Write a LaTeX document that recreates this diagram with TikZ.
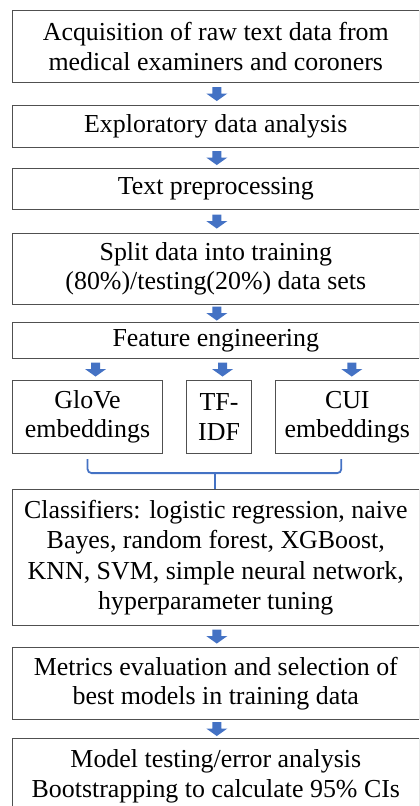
\documentclass[tikz,border=0pt]{standalone}
\usepackage{fontspec}
\setmainfont{Liberation Serif}
\usetikzlibrary{calc}
\definecolor{arrowblue}{HTML}{4472C4}
\definecolor{boxline}{HTML}{505050}
\tikzset{
  stepbox/.style={draw=boxline, line width=1.1bp, rectangle, inner sep=0pt, align=center,
    font=\fontsize{26}{29.5}\selectfont, anchor=north west},
  blockarrow/.pic={\fill[arrowblue] (-4.5bp,7bp) -- (4.5bp,7bp) -- (4.5bp,0.5bp) -- (10.5bp,0.5bp) -- (0bp,-7bp) -- (-10.5bp,0.5bp) -- (-4.5bp,0.5bp) -- cycle;},
  bracepath/.style={draw=arrowblue, line width=1.8bp, rounded corners=4bp}
}
\begin{document}
\begin{tikzpicture}[x=1bp, y=-1bp]
\useasboundingbox (0,0) rectangle (419,806);
\clip (0,0) rectangle (419,806);
\node[stepbox, minimum width=406.5bp, minimum height=72bp] (b1) at (12,10)
  {Acquisition of raw text data from\\medical examiners and coroners};
\node[stepbox, minimum width=406.5bp, minimum height=42bp] (b2) at (12,105)
  {Exploratory data analysis};
\node[stepbox, minimum width=406.5bp, minimum height=41bp] (b3) at (12,168)
  {Text preprocessing};
\node[stepbox, minimum width=406.5bp, minimum height=71bp] (b4) at (12,233)
  {Split data into training\\(80\%)/testing(20\%) data sets};
\node[stepbox, minimum width=406.5bp, minimum height=36bp] (b5) at (12,322)
  {Feature engineering};
\node[stepbox, minimum width=150bp, minimum height=73bp] (g) at (12,380)
  {GloVe\\embeddings};
\node[stepbox, minimum width=65bp, minimum height=73bp] (t) at (186,380)
  {TF-\\IDF};
\node[stepbox, minimum width=143.5bp, minimum height=73bp] (c) at (275,380)
  {CUI\\embeddings};
\node[stepbox, minimum width=406.5bp, minimum height=136bp, font=\fontsize{26}{30.5}\selectfont] (b6) at (12,489)
  {Classifiers: logistic regression, naive\\Bayes, random forest, XGBoost,\\KNN, SVM, simple neural network,\\hyperparameter tuning};
\node[stepbox, minimum width=406.5bp, minimum height=72bp] (b7) at (12,647)
  {Metrics evaluation and selection of\\best models in training data};
\node[stepbox, minimum width=406.5bp, minimum height=100bp, text depth=30bp] (b8) at (12,738)
  {Model testing/error analysis\\Bootstrapping to calculate 95\% CIs};
% block arrows
\path ($(b1.south)!0.5!(b2.north)+(1,0)$) pic {blockarrow};
\path ($(b2.south)!0.5!(b3.north)+(1,0)$) pic {blockarrow};
\path ($(b3.south)!0.5!(b4.north)+(1,0)$) pic {blockarrow};
\path ($(b4.south)!0.5!(b5.north)+(1,0)$) pic {blockarrow};
\path ($(b5.south -| g.north)!0.5!(g.north)+(8,0)$) pic {blockarrow};
\path ($(b5.south -| t.north)!0.5!(t.north)+(3.5,0)$) pic {blockarrow};
\path ($(b5.south -| c.north)!0.5!(c.north)+(4.5,0)$) pic {blockarrow};
\path ($(b6.south)!0.5!(b7.north)+(1,0)$) pic {blockarrow};
\path ($(b7.south)!0.5!(b8.north)+(1,0)$) pic {blockarrow};
% brace
\coordinate (bl) at ($(g.south)+(0,5)$);
\coordinate (br) at ($(c.south)+(-6,5)$);
\draw[bracepath] (bl) -- ($(bl)+(0,14)$) -- ($(br)+(0,14)$) -- (br);
\draw[bracepath] ($(b6.north)+(-1,-16)$) -- ($(b6.north)+(-1,0)$);
\end{tikzpicture}
\end{document}
